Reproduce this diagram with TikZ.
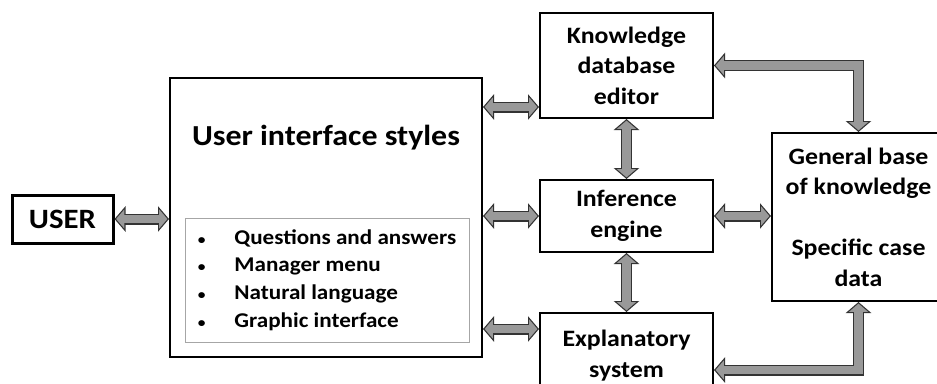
\documentclass[tikz,border=0pt]{standalone}
\usepackage{fontspec}
\setmainfont{Carlito}[FakeStretch=1.1]
\usetikzlibrary{arrows.meta,calc}
\tikzset{
  block/.style={draw=black, line width=2pt, align=center, inner sep=0pt,
    font=\bfseries\fontsize{23.5}{30.5}\selectfont},
  fat/.style={preaction={draw=black!80, line width=11pt, line join=miter,
      shorten <=0pt, shorten >=0pt,
      arrows={Triangle[width=25pt,length=11pt]-Triangle[width=25pt,length=11pt]}},
    draw=gray!80, line width=8.6pt, line join=miter,
    shorten <=1.6pt, shorten >=1.6pt,
    arrows={Triangle[width=18.6pt,length=8.2pt]-Triangle[width=18.6pt,length=8.2pt]}}
}
\newcommand{\dotitem}{{\fontsize{14}{14}\selectfont\textbullet}\hspace{29pt}}
\begin{document}
\begin{tikzpicture}[x=1pt,y=-1pt]
\useasboundingbox (0,0) rectangle (937,383);
\node[block, line width=3pt, minimum width=101pt, minimum height=48pt,
  font=\bfseries\fontsize{28}{30}\selectfont] (user) at (62.5,219) {USER};
\node[block, minimum width=312pt, minimum height=279pt] (ui) at (326,217.5) {};
\node[font=\bfseries\fontsize{29}{30}\selectfont] (title) at (326,138) {User interface styles};
\node[draw=gray!70, line width=0.8pt, minimum width=284pt, minimum height=124pt,
  inner sep=0pt, align=left, font=\bfseries\fontsize{21}{27.7}\selectfont] (styles) at (327,280)
  {\dotitem Questions and answers\\
   \dotitem Manager menu\\
   \dotitem Natural language\\
   \dotitem Graphic interface};
\node[block, minimum width=173pt, minimum height=105pt] (kde) at (626.5,65.5) {Knowledge\\database\\editor};
\node[block, minimum width=173pt, minimum height=72pt] (inf) at (626.5,216) {Inference\\engine};
\node[block, minimum width=173pt, minimum height=85pt] (exp) at (626.5,355.5) {Explanatory\\system};
\node[block, minimum width=173pt, minimum height=168pt] (gen) at (858.5,217)
  {General base\\of knowledge\\[30.5pt]Specific case\\data};
\coordinate (k1) at ($(kde.south west)+(0,-12)$);
\coordinate (e1) at ($(exp.north west)+(0,17)$);
\coordinate (e2) at ($(exp.east)+(0,14.5)$);
\draw[fat] (user.east) -- (user.east -| ui.west);
\draw[fat] (ui.east |- k1) -- (k1);
\draw[fat] (ui.east |- inf.west) -- (inf.west);
\draw[fat] (ui.east |- e1) -- (e1);
\draw[fat] (kde.south) -- (inf.north);
\draw[fat] (inf.south) -- (exp.north);
\draw[fat] (inf.east) -- (inf.east -| gen.west);
\draw[fat] (kde.east) -| (gen.north);
\draw[fat] (e2) -| (gen.south);
\end{tikzpicture}
\end{document}
